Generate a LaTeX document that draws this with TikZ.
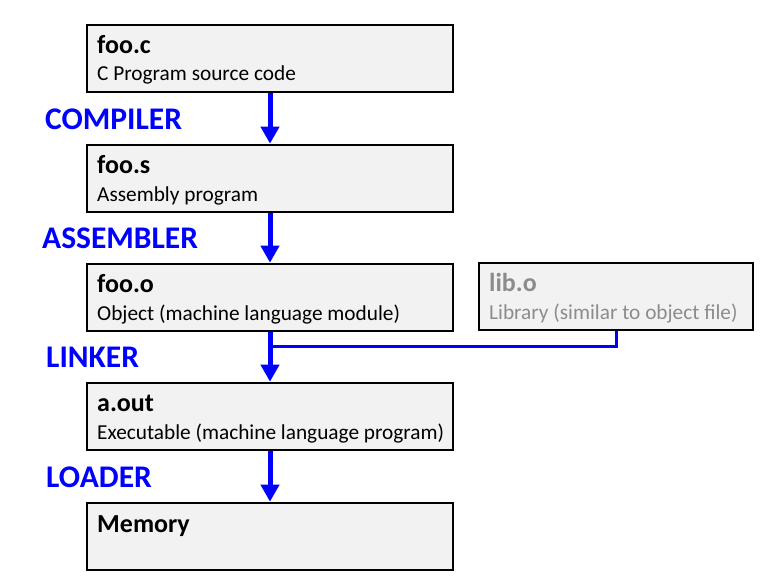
\documentclass[tikz,border=0pt]{standalone}
\usepackage{fontspec}
\setmainfont{Carlito}
\usetikzlibrary{arrows.meta}
\definecolor{boxgray}{HTML}{F2F2F2}
\definecolor{libgray}{HTML}{8C8C8C}

\begin{document}
\begin{tikzpicture}[x=1pt,y=-1pt,
    box/.style={draw=black, line width=2.7pt, fill=boxgray, minimum height=67pt, inner sep=0pt},
    title/.style={anchor=base west, inner sep=0pt, font=\fontsize{26}{30}\selectfont\bfseries},
    sub/.style={anchor=base west, inner sep=0pt, font=\fontsize{21.3}{25}\selectfont},
    tool/.style={anchor=base west, inner sep=0pt, text=blue, font=\fontsize{31.5}{36}\selectfont\bfseries},
    flow/.style={draw=blue, line width=5pt, -{Triangle[width=18pt,length=17pt]}},
    feed/.style={draw=blue, line width=3pt}]
  \useasboundingbox (0,0) rectangle (760,581);

  % boxes
  \node[box, minimum width=366pt] (c) at (270,58.5) {};
  \node[box, minimum width=366pt] (s) at (270,178.5) {};
  \node[box, minimum width=366pt] (o) at (270,297.5) {};
  \node[box, minimum width=274pt] (lib) at (616,296.5) {};
  \node[box, minimum width=366pt] (a) at (270,416.5) {};
  \node[box, minimum width=366pt] (mem) at (270,536.5) {};

  % box texts
  \node[title] (ctitle) at (97,53) {foo.c};
  \node[sub] (csub) at (97,80) {C Program source code};
  \node[title] (stitle) at (97,173) {foo.s};
  \node[sub] (ssub) at (97,201) {Assembly program};
  \node[title] (otitle) at (97,292) {foo.o};
  \node[sub] (osub) at (97,320) {Object (machine language module)};
  \node[title, text=libgray] (libtitle) at (489,291) {lib.o};
  \node[sub, text=libgray] (libsub) at (489,319) {Library (similar to object file)};
  \node[title] (atitle) at (97,411) {a.out};
  \node[sub] (asub) at (97,439) {Executable (machine language program)};
  \node[title] (memtitle) at (97,532) {Memory};

  % tools
  \node[tool] (compiler) at (45,129) {COMPILER};
  \node[tool] (assembler) at (42,248) {ASSEMBLER};
  \node[tool] (linker) at (46,367) {LINKER};
  \node[tool] (loader) at (46,487) {LOADER};

  % arrows
  \draw[flow] (c.south) -- (s.north);
  \draw[flow] (s.south) -- (o.north);
  \draw[flow] (o.south) -- (a.north);
  \draw[flow] (a.south) -- (mem.north);

  % library joins the linker
  \coordinate (join) at (270,346);
  \draw[feed] (lib.south) |- (join);
\end{tikzpicture}
\end{document}
